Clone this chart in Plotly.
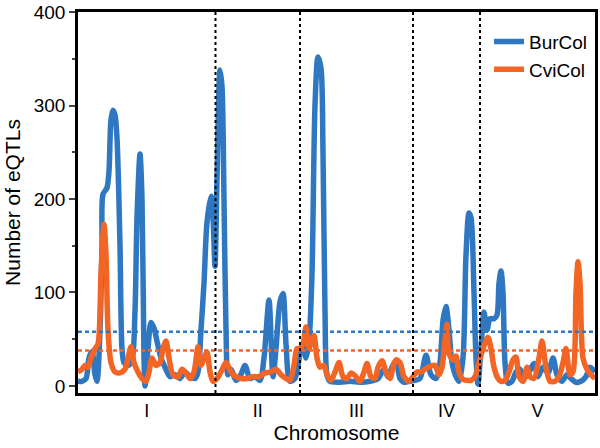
import plotly.graph_objects as go

# Genome position (arbitrary units along the concatenated chromosomes)
chrom_labels = ["I", "II", "III", "IV", "V"]
chrom_bounds = [0, 137.5, 222, 335, 402, 517]

bur_pos = [0, 4, 8, 11, 14, 17, 19, 22, 24, 25, 29, 31, 33, 35, 37, 39, 42, 44, 46, 50, 54,
           57, 59, 62, 64, 66, 67, 70, 73, 76, 79, 83, 87, 92, 97, 102, 107, 112, 117, 120,
           123, 126, 129, 133, 135, 137, 139, 142, 144, 146, 148, 150, 153, 158, 162, 167,
           172, 177, 182, 186, 191, 195, 198, 202, 205, 208, 212, 217, 222, 225, 228, 231,
           234, 237, 240, 243, 245, 247, 249, 252, 262, 272, 282, 292, 300, 306, 310, 314,
           318, 322, 326, 332, 337, 342, 348, 353, 358, 362, 365, 368, 371, 374, 378, 381,
           385, 388, 391, 393, 396, 398, 400, 403, 406, 409, 412, 416, 419, 421, 423, 425,
           427, 430, 434, 438, 442, 446, 451, 456, 460, 465, 470, 475, 479, 484, 489, 493,
           498, 503, 508, 512, 517]
bur_val = [5, 5, 8, 30, 37, 12, 5, 60, 150, 205, 212, 230, 285, 295, 290, 265, 150, 40, 25,
           22, 28, 80, 180, 248, 200, 30, 0, 40, 68, 62, 48, 30, 20, 10, 12, 8, 15, 10, 8, 15,
           60, 110, 175, 203, 180, 128, 220, 338, 320, 200, 60, 12, 18, 6, 10, 22, 8, 10, 6,
           30, 92, 10, 40, 90, 99, 45, 5, 8, 35, 45, 30, 48, 120, 300, 352, 340, 250, 80, 12,
           5, 4, 5, 4, 5, 8, 18, 10, 20, 27, 8, 4, 5, 6, 8, 33, 12, 8, 25, 70, 85, 60, 25, 10,
           5, 30, 140, 185, 180, 100, 30, 2, 40, 79, 60, 72, 72, 76, 110, 123, 100, 25, 3, 5,
           15, 18, 8, 15, 24, 10, 20, 14, 30, 12, 5, 12, 8, 4, 5, 10, 20, 15]

cvi_pos = [0, 4, 7, 10, 13, 17, 20, 23, 26, 28, 30, 33, 37, 42, 47, 50, 53, 56, 60, 64, 68,
           71, 74, 78, 82, 85, 88, 91, 95, 100, 104, 108, 112, 116, 120, 123, 126, 129, 132,
           135, 139, 143, 148, 153, 158, 163, 169, 175, 181, 187, 193, 198, 203, 208, 212,
           216, 219, 222, 225, 228, 231, 234, 236, 239, 242, 246, 249, 253, 257, 261, 265,
           269, 273, 278, 282, 286, 289, 293, 297, 300, 304, 308, 312, 315, 318, 322, 326,
           331, 335, 339, 343, 347, 352, 357, 361, 364, 367, 369, 371, 375, 378, 381, 385,
           389, 393, 397, 401, 405, 410, 413, 416, 420, 423, 427, 431, 435, 438, 441, 445,
           449, 452, 456, 461, 464, 468, 472, 477, 481, 485, 488, 492, 495, 498, 500, 502,
           505, 509, 513, 517]
cvi_val = [15, 18, 22, 20, 30, 40, 45, 120, 173, 140, 60, 25, 15, 14, 18, 30, 42, 25, 15, 8,
           5, 15, 30, 22, 25, 40, 48, 30, 12, 10, 18, 14, 8, 15, 42, 22, 30, 36, 15, 5, 8, 15,
           25, 15, 10, 8, 8, 10, 10, 14, 15, 18, 12, 8, 6, 22, 40, 40, 45, 63, 40, 50, 54, 30,
           20, 22, 12, 6, 15, 25, 10, 8, 14, 10, 5, 15, 24, 10, 8, 20, 27, 15, 8, 20, 28, 25,
           10, 5, 10, 15, 15, 18, 21, 22, 12, 20, 50, 66, 35, 28, 32, 15, 7, 6, 6, 10, 25, 40,
           52, 40, 20, 8, 5, 6, 15, 28, 31, 10, 5, 20, 10, 8, 30, 48, 20, 5, 5, 10, 25, 40, 12,
           15, 100, 133, 110, 30, 18, 12, 8]

thresholds = {"BurCol": 58, "CviCol": 38}
colors = {"BurCol": "#2f78c1", "CviCol": "#f26524"}

fig = go.Figure()
fig.add_trace(go.Scatter(x=bur_pos, y=bur_val, mode="lines", name="BurCol",
                         line=dict(color=colors["BurCol"], width=5.5, shape="spline", smoothing=0.8)))
fig.add_trace(go.Scatter(x=cvi_pos, y=cvi_val, mode="lines", name="CviCol",
                         line=dict(color=colors["CviCol"], width=5.5, shape="spline", smoothing=0.8)))

shapes = []
for name, t in thresholds.items():
    shapes.append(dict(type="line", xref="paper", yref="y", x0=0, x1=1, y0=t, y1=t,
                       line=dict(color=colors[name], width=2.5, dash="4px,3px")))
for b in chrom_bounds[1:-1]:
    shapes.append(dict(type="line", xref="x", yref="paper", x0=b, x1=b, y0=0, y1=1,
                       line=dict(color="black", width=2, dash="3px,3px")))

mids = [(chrom_bounds[i] + chrom_bounds[i + 1]) / 2 for i in range(len(chrom_labels))]

fig.update_layout(
    width=600, height=448,
    margin=dict(l=78, r=5, t=12, b=55),
    paper_bgcolor="white", plot_bgcolor="white",
    font=dict(family="Liberation Sans, Arial, sans-serif", size=18, color="black"),
    shapes=shapes,
    showlegend=True,
    legend=dict(x=0.795, xanchor="left", y=0.972, yanchor="top", bgcolor="rgba(0,0,0,0)",
                font=dict(size=19), tracegroupgap=0),
    xaxis=dict(range=[chrom_bounds[0], chrom_bounds[-1]], tickvals=mids, ticktext=chrom_labels,
               ticks="", showgrid=False, zeroline=False, showline=True, linecolor="black",
               linewidth=2.5, mirror=True, automargin=False,
               title=dict(text="Chromosome", font=dict(size=21), standoff=4),
               tickfont=dict(size=18)),
    yaxis=dict(range=[-7.5, 400], tickvals=[0, 100, 200, 300, 400], ticks="outside", ticklen=6,
               tickwidth=1.5, showgrid=False, zeroline=False, showline=True, linecolor="black",
               linewidth=2.5, mirror=True, automargin=False,
               title=dict(text="Number of eQTLs", font=dict(size=21), standoff=8),
               minor=dict(tickvals=[50, 150, 250, 350], ticks="outside", ticklen=3, tickwidth=1.5),
               tickfont=dict(size=19)),
)

fig.write_html("out.html", post_script="document.body.style.margin='0';",
               config={"displayModeBar": False})
